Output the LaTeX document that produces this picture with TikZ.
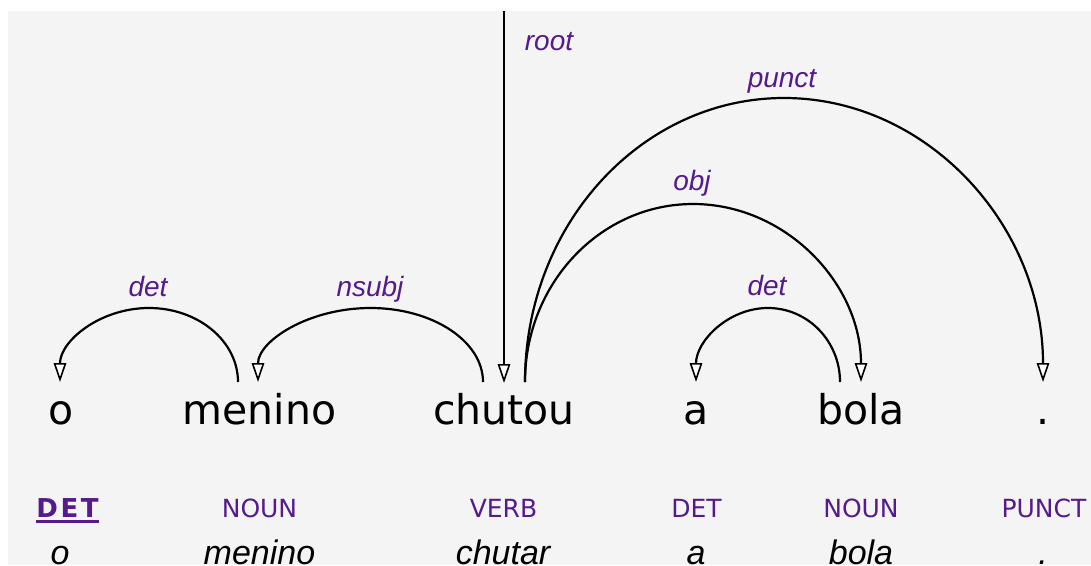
\documentclass[tikz,border=0pt]{standalone}
\usepackage{fontspec}
\setmainfont{DejaVu Sans}
\newfontfamily\labelfont{Liberation Sans}
\usetikzlibrary{arrows.meta,calc}
\definecolor{deplabel}{HTML}{551A8B}
\definecolor{canvas}{HTML}{F4F4F4}
\begin{document}
\begin{tikzpicture}[x=1pt,y=1pt,
  word/.style={anchor=base,inner sep=0pt,font=\fontsize{41}{41}\selectfont},
  postag/.style={anchor=base,inner sep=0pt,text=deplabel,font=\fontsize{25}{25}\selectfont},
  lemma/.style={anchor=base,inner sep=0pt,font=\labelfont\itshape\fontsize{34}{34}\selectfont},
  rel/.style={anchor=base,inner sep=0pt,text=deplabel,font=\labelfont\itshape\fontsize{28}{28}\selectfont},
  deparc/.style={draw=black,line width=2.2pt,
    -{Triangle[length=19pt,width=12.5pt,fill=white,line width=1.6pt]}},
  leftarc/.style={to path={let \p1=(\tikztostart),\p2=(\tikztotarget),
    \n1={(\x1-\x2)/2} in arc[start angle=0,end angle=180,x radius=\n1,y radius=#1pt]}},
  rightarc/.style={to path={let \p1=(\tikztostart),\p2=(\tikztotarget),
    \n1={(\x2-\x1)/2} in arc[start angle=180,end angle=0,x radius=\n1,y radius=#1pt]}},
]
\useasboundingbox (0,0) rectangle (1091,-565);
\clip (0,0) rectangle (1091,-565);
\fill[white] (0,0) rectangle (1091,-565);
\fill[canvas] (8,-11) rectangle (1091,-565);

% tokens
\node[word] (w-o)      at (61,-424)   {o};
\node[word] (w-menino) at (259.5,-424) {menino};
\node[word] (w-chutou) at (504,-424)  {chutou};
\node[word] (w-a)      at (696,-424)  {a};
\node[word] (w-bola)   at (861,-424)  {bola};
\node[word] (w-dot)    at (1043,-424) {.};

% part-of-speech tags (the first one is selected: bold and underlined)
\node[postag,font=\bfseries\fontsize{26}{26}\selectfont] (p-o) at (67.5,-517) {D\hspace{2.5pt}E\hspace{2.5pt}T};
\draw[deplabel,line width=2.5pt] ($(p-o.base west)+(0,-4.5)$) -- ($(p-o.base east)+(0,-4.5)$);
\node[postag] (p-menino) at (259.5,-517) {NOUN};
\node[postag] (p-chutou) at (503.5,-517) {VERB};
\node[postag] (p-a)      at (696.5,-517) {DET};
\node[postag] (p-bola)   at (861,-517)   {NOUN};
\node[postag] (p-dot)    at (1044,-517)  {PUNCT};

% lemmas
\node[lemma] (l-o)      at (60,-564)  {o};
\node[lemma] (l-menino) at (259.5,-564) {menino};
\node[lemma] (l-chutou) at (503,-564) {chutar};
\node[lemma] (l-a)      at (696,-564) {a};
\node[lemma] (l-bola)   at (861,-564) {bola};
\node[lemma] (l-dot)    at (1043,-564) {.};

% arc end points above the tokens
\coordinate (o-in)         at (60,-382);
\coordinate (menino-out)   at (238,-382);
\coordinate (menino-in)    at (258,-382);
\coordinate (chutou-left)  at (483,-382);
\coordinate (chutou-in)    at (504,-383);
\coordinate (chutou-right) at (525,-382);
\coordinate (a-in)         at (696,-382);
\coordinate (bola-out)     at (840,-382);
\coordinate (bola-in)      at (861,-382);
\coordinate (dot-in)       at (1043,-382);
\coordinate (root-top)     at (504,-11);

% dependency arcs
\draw[deparc] (root-top) -- (chutou-in);
\draw[deparc] (menino-out) to[leftarc=74] (o-in);
\draw[deparc] (chutou-left) to[leftarc=74] (menino-in);
\draw[deparc] (bola-out) to[leftarc=74] (a-in);
\draw[deparc] (chutou-right) to[rightarc=178] (bola-in);
\draw[deparc] (chutou-right) to[rightarc=284] (dot-in);

% relation labels
\node[rel] (r-root)  at (549,-50)  {root};
\node[rel] (r-det1)  at (148,-296) {det};
\node[rel] (r-nsubj) at (370,-296) {nsubj};
\node[rel] (r-det2)  at (767,-295) {det};
\node[rel] (r-obj)   at (692,-190) {obj};
\node[rel] (r-punct) at (782,-87)  {punct};
\end{tikzpicture}
\end{document}
